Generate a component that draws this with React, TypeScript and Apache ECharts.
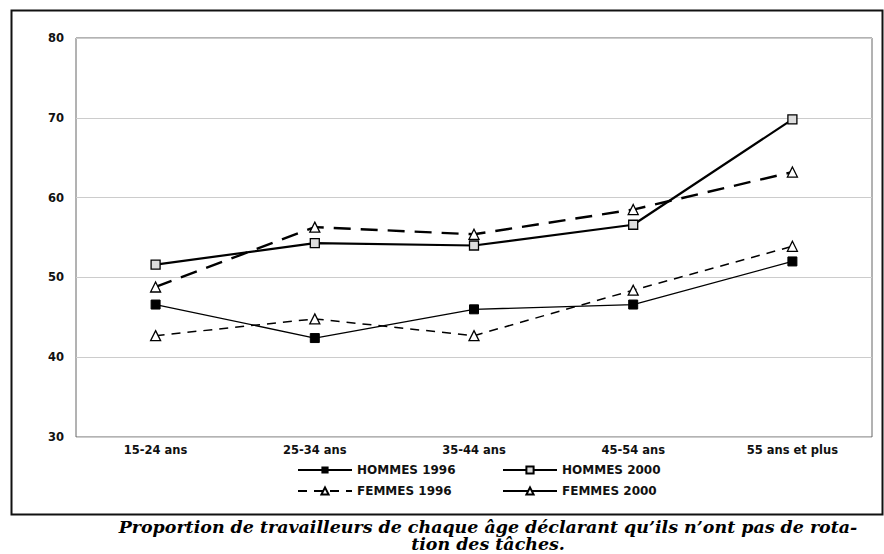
import React, { useEffect, useRef } from "react";
import * as echarts from "echarts";

const categories = ["15-24 ans", "25-34 ans", "35-44 ans", "45-54 ans", "55 ans et plus"];
const hommes1996 = [46.6, 42.4, 46.0, 46.6, 52.0];
const hommes2000 = [51.6, 54.3, 54.0, 56.6, 69.8];
const femmes1996 = [42.7, 44.8, 42.7, 48.4, 53.9];
const femmes2000 = [48.8, 56.3, 55.4, 58.5, 63.2];
const yTicks = { min: 30, max: 80, interval: 10 };
const caption1 = "Proportion de travailleurs de chaque âge déclarant qu\u2019ils n\u2019ont pas de rota-";
const caption2 = "tion des tâches.";

export default function App() {
  const ref = useRef<HTMLDivElement>(null);
  useEffect(() => {
    document.body.style.margin = "0";
    const chart = echarts.init(ref.current!, null, { renderer: "svg" });
    const legendText = { fontFamily: "DejaVu Sans", fontSize: 12, color: "#111", fontWeight: "bold" as const };
    const mkLegend = (name: string, left: number, top: number, extra: any = {}) => ({
      left, top, orient: "horizontal", itemWidth: 54, itemHeight: 9, itemGap: 4, padding: 0,
      textStyle: legendText, selectedMode: false,
      data: [{ name, ...extra }],
    });
    const axisFont = { fontFamily: "DejaVu Sans", fontSize: 11.5, color: "#111", fontWeight: "bold" as const };
    const captionFont = "italic bold 16px 'DejaVu Serif'";
    chart.setOption({
      animation: false,
      backgroundColor: "#fff",
      grid: { left: 76, top: 38, right: 12, bottom: 117, show: true, borderColor: "#666", borderWidth: 1 },
      xAxis: {
        type: "category", data: categories, boundaryGap: true,
        axisLine: { show: false }, axisTick: { show: false },
        axisLabel: { ...axisFont, margin: 7 },
      },
      yAxis: {
        type: "value", min: yTicks.min, max: yTicks.max, interval: yTicks.interval,
        axisLine: { show: false }, axisTick: { show: false },
        splitLine: { show: true, lineStyle: { color: "#ccc", width: 1 } },
        axisLabel: { ...axisFont, margin: 12 },
      },
      legend: [
        mkLegend("HOMMES 1996", 297, 464),
        mkLegend("HOMMES 2000", 502, 464),
        mkLegend("FEMMES 1996", 297, 485),
        mkLegend("FEMMES 2000", 502, 485, { lineStyle: { type: "solid" } }),
      ],
      series: [
        {
          name: "HOMMES 1996", type: "line", data: hommes1996,
          symbol: "rect", symbolSize: 9,
          itemStyle: { color: "#000", borderColor: "#000" },
          lineStyle: { color: "#000", width: 1.3 },
        },
        {
          name: "HOMMES 2000", type: "line", data: hommes2000,
          symbol: "rect", symbolSize: 9,
          itemStyle: { color: "#ddd", borderColor: "#000", borderWidth: 1.3 },
          lineStyle: { color: "#000", width: 2.2 },
        },
        {
          name: "FEMMES 1996", type: "line", data: femmes1996,
          symbol: "triangle", symbolSize: 10,
          itemStyle: { color: "#fff", borderColor: "#000", borderWidth: 1.3 },
          lineStyle: { color: "#000", width: 1.5, type: [9, 7] },
        },
        {
          name: "FEMMES 2000", type: "line", data: femmes2000,
          symbol: "triangle", symbolSize: 10,
          itemStyle: { color: "#fff", borderColor: "#000", borderWidth: 1.3 },
          lineStyle: { color: "#000", width: 2.4, type: [17, 10] },
        },
      ],
      graphic: [
        {
          type: "rect", left: 9, top: 8, silent: true,
          shape: { width: 871, height: 504 },
          style: { fill: "none", stroke: "#111", lineWidth: 2 },
        },
        {
          type: "text", x: 488, y: 527, scaleX: 1.09,
          style: { text: caption1, font: captionFont, fill: "#000", align: "center", verticalAlign: "middle" },
        },
        {
          type: "text", x: 488, y: 544, scaleX: 1.09,
          style: { text: caption2, font: captionFont, fill: "#000", align: "center", verticalAlign: "middle" },
        },
      ],
    });
    return () => chart.dispose();
  }, []);
  return <div ref={ref} style={{ width: 884, height: 554 }} />;
}
